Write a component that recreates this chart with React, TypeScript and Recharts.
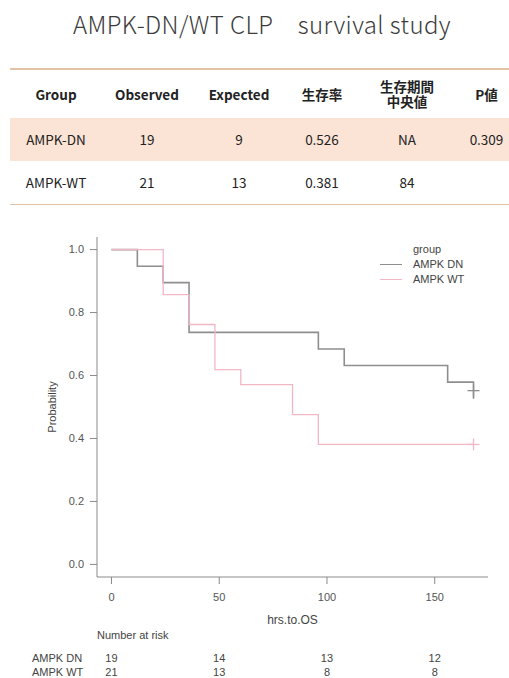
import { ComposedChart, Line, Scatter, XAxis, YAxis, Legend } from "recharts";

// Kaplan-Meier steps
const dnTimes = [0, 12, 24, 36, 96, 108, 156, 168];
const dnSurv = [1, 0.947, 0.895, 0.737, 0.684, 0.632, 0.579, 0.526];
const wtTimes = [0, 24, 36, 48, 60, 84, 96, 168];
const wtSurv = [1, 0.857, 0.762, 0.619, 0.571, 0.476, 0.381, 0.381];

const dnCensor = [{ t: 168, s: 0.552 }];
const wtCensor = [{ t: 168, s: 0.381 }];

const xTicks = [0, 50, 100, 150];
const yTicks = [0, 0.2, 0.4, 0.6, 0.8, 1.0];

const riskTimes = [0, 50, 100, 150];
const riskDN = [19, 14, 13, 12];
const riskWT = [21, 13, 8, 8];
const groupNames = ["AMPK DN", "AMPK WT"];

const tableHeader = ["Group", "Observed", "Expected", "生存率", "生存期間\n中央値", "P値"];
const rowDN = ["AMPK-DN", "19", "9", "0.526", "NA", "0.309"];
const rowWT = ["AMPK-WT", "21", "13", "0.381", "84", ""];
const colWidths = [92, 90, 94, 72, 98, 53];

const GRAY = "#8e8e8e";
const PINK = "#f1b7c5";
const AXIS = "#8a8a8a";
const FONT = "'Liberation Sans', Arial, sans-serif";
const JP = "'Noto Sans CJK JP', 'Noto Sans', sans-serif";

const dnData = dnTimes.map((t, i) => ({ t, s: dnSurv[i] }));
const wtData = wtTimes.map((t, i) => ({ t, s: wtSurv[i] }));
const dnRisk = riskTimes.map((t, i) => ({ t, row: 1, n: riskDN[i] }));
const wtRisk = riskTimes.map((t, i) => ({ t, row: 0, n: riskWT[i] }));

function plus(color: string) {
  return (props: any) => {
    const { cx, cy } = props;
    return (
      <g stroke={color} strokeWidth={1.3}>
        <line x1={cx - 6} x2={cx + 6} y1={cy} y2={cy} />
        <line x1={cx} x2={cx} y1={cy - 6} y2={cy + 6} />
      </g>
    );
  };
}

function RiskText(props: any) {
  const { cx, cy, payload } = props;
  return (
    <text x={cx} y={cy} textAnchor="middle" dominantBaseline="central" fontSize={11} fill="#444" fontFamily={FONT}>
      {payload.n}
    </text>
  );
}

function GroupTick(props: any) {
  const { y, payload } = props;
  return (
    <text x={32} y={y} textAnchor="start" dominantBaseline="central" fontSize={11} fill="#444" fontFamily={FONT}>
      {groupNames[payload.value === 1 ? 0 : 1]}
    </text>
  );
}

function LegendBox(props: any) {
  const items = (props.payload || []).filter((p: any) => p.type !== "none");
  return (
    <div style={{ fontFamily: FONT, fontSize: 11, color: "#444", lineHeight: "15px" }}>
      <div style={{ paddingLeft: 33 }}>group</div>
      {items.map((p: any) => (
        <div key={p.value} style={{ display: "flex", alignItems: "center" }}>
          <span style={{ display: "inline-block", width: 22, height: 0, borderTop: `1.5px solid ${p.color}`, marginRight: 11 }} />
          {p.value}
        </div>
      ))}
    </div>
  );
}

function Row({ cells, bg, bold, height }: { cells: string[]; bg: string; bold?: boolean; height: number }) {
  return (
    <div style={{ display: "flex", background: bg, height, alignItems: "center" }}>
      {cells.map((c, i) => (
        <div
          key={i}
          style={{
            width: colWidths[i],
            textAlign: "center",
            whiteSpace: "pre-line",
            fontWeight: bold ? 700 : 400,
            lineHeight: "15px",
            paddingLeft: i === 5 ? 8 : 0,
            boxSizing: "border-box",
          }}
        >
          {c}
        </div>
      ))}
    </div>
  );
}

export default function App() {
  return (
    <div style={{ position: "absolute", left: 0, top: 0, width: 509, height: 678, background: "#fff", overflow: "hidden" }}>
      <div
        style={{
          position: "absolute",
          top: 6,
          left: 0,
          width: 524,
          textAlign: "center",
          fontFamily: JP,
          fontSize: 24,
          fontWeight: 300,
          color: "#3c3c3c",
          letterSpacing: 0.4,
        }}
      >
        AMPK-DN/WT CLP　survival study
      </div>

      <div
        style={{
          position: "absolute",
          top: 68,
          left: 10,
          width: 499,
          fontFamily: JP,
          fontSize: 13.5,
          color: "#222",
          borderTop: "2px solid #e3c3a6",
          borderBottom: "1.5px solid #e3c3a6",
        }}
      >
        <Row cells={tableHeader} bg="#fff" bold height={48} />
        <Row cells={rowDN} bg="#fbe4d6" height={43} />
        <Row cells={rowWT} bg="#fff" height={43} />
      </div>

      <div style={{ position: "absolute", left: 0, top: 220 }}>
        <ComposedChart width={509} height={420} margin={{ top: 17, right: 21, left: 37, bottom: 33 }}>
          <XAxis
            type="number"
            dataKey="t"
            domain={[-6.72, 174.72]}
            ticks={xTicks}
            allowDataOverflow
            height={30}
            stroke={AXIS}
            tickSize={7}
            tickMargin={9}
            tick={{ fill: "#555", fontSize: 11, fontFamily: FONT }}
            label={{ value: "hrs.to.OS", position: "bottom", offset: 8, fill: "#444", fontSize: 12, fontFamily: FONT }}
          />
          <YAxis
            type="number"
            dataKey="s"
            domain={[-0.04, 1.04]}
            ticks={yTicks}
            allowDataOverflow
            width={60}
            stroke={AXIS}
            tickSize={7}
            tickMargin={6}
            tickFormatter={(v: number) => v.toFixed(1)}
            tick={{ fill: "#555", fontSize: 11, fontFamily: FONT }}
            label={{ value: "Probability", angle: -90, position: "center", dx: -15, fill: "#444", fontSize: 11, fontFamily: FONT }}
          />
          <Legend
            layout="vertical"
            align="center"
            verticalAlign="middle"
            content={<LegendBox />}
            wrapperStyle={{ position: "absolute", top: 22, left: 380, width: 120 }}
          />
          <Line name="AMPK DN" data={dnData} dataKey="s" type="stepAfter" stroke={GRAY} strokeWidth={1.6} dot={false} isAnimationActive={false} />
          <Line name="AMPK WT" data={wtData} dataKey="s" type="stepAfter" stroke={PINK} strokeWidth={1.3} dot={false} isAnimationActive={false} />
          <Scatter data={dnCensor} dataKey="s" shape={plus(GRAY)} legendType="none" isAnimationActive={false} />
          <Scatter data={wtCensor} dataKey="s" shape={plus(PINK)} legendType="none" isAnimationActive={false} />
        </ComposedChart>
      </div>

      <div style={{ position: "absolute", left: 97, top: 629, fontFamily: FONT, fontSize: 11, color: "#444" }}>
        Number at risk
      </div>

      <div style={{ position: "absolute", left: 0, top: 645 }}>
        <ComposedChart width={509} height={33} margin={{ top: 13, right: 21, left: 0, bottom: 6 }}>
          <XAxis type="number" dataKey="t" domain={[-6.72, 174.72]} allowDataOverflow hide />
          <YAxis
            type="number"
            dataKey="row"
            domain={[0, 1]}
            ticks={[0, 1]}
            interval={0}
            width={97}
            axisLine={false}
            tickLine={false}
            tick={<GroupTick />}
          />
          <Scatter data={dnRisk} dataKey="row" shape={RiskText} isAnimationActive={false} />
          <Scatter data={wtRisk} dataKey="row" shape={RiskText} isAnimationActive={false} />
        </ComposedChart>
      </div>
    </div>
  );
}
